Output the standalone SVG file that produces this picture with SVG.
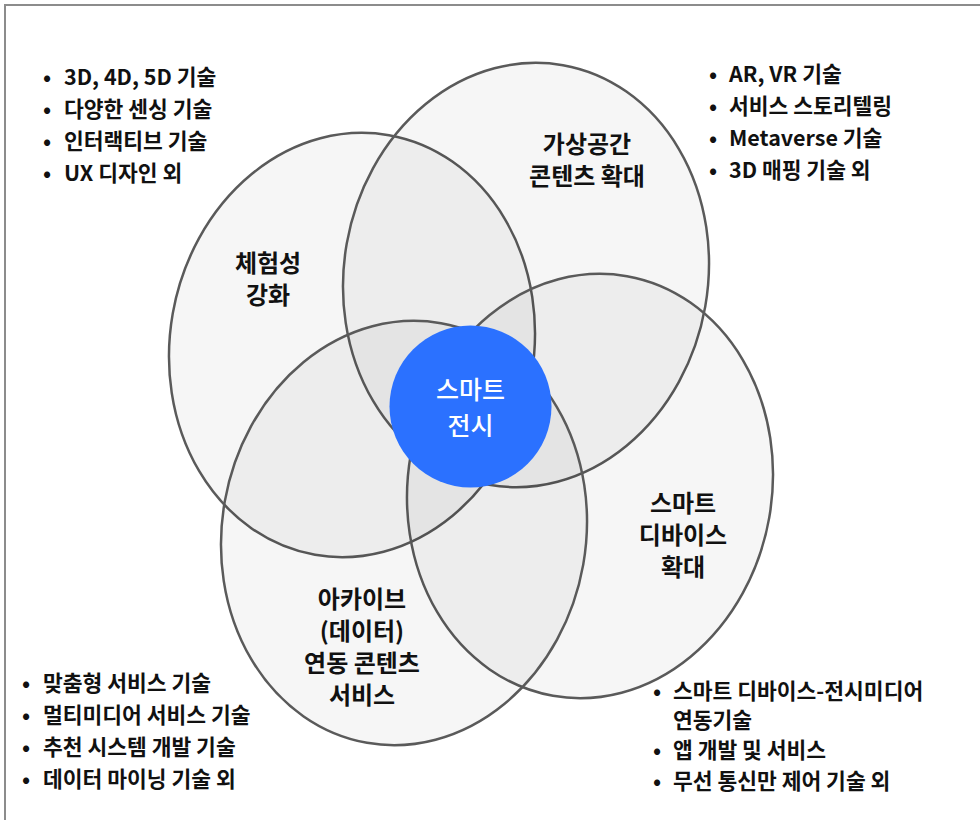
<svg xmlns="http://www.w3.org/2000/svg" width="980" height="820" viewBox="0 0 980 820">
<style>
.frame{fill:#fff;stroke:#8c8c8c;stroke-width:2}
.petal{fill:#000;fill-opacity:0.035;stroke:#5a5a5a;stroke-width:2.5}
.title{font-family:"Noto Sans CJK KR","Noto Sans",sans-serif;font-size:24px;font-weight:700;fill:#111;text-anchor:middle}
.core{fill:#2B71FF}
.coretxt{font-family:"Noto Sans CJK KR","Noto Sans",sans-serif;font-size:25px;font-weight:500;fill:#fff;text-anchor:middle}
.list{font-family:"Noto Sans CJK KR","Noto Sans",sans-serif;font-size:21.5px;font-weight:600;fill:#111}
</style>
<rect class="frame" x="5" y="5" width="1000" height="900"/>
<g id="connectors"/>
<g id="node-experience">
  <ellipse class="petal" cx="352" cy="345" rx="182" ry="213" transform="rotate(10 352 345)"/>
  <text class="title" x="268" y="272">체험성</text>
  <text class="title" x="268" y="304">강화</text>
</g>
<g id="node-virtual">
  <ellipse class="petal" cx="526" cy="275" rx="182" ry="213" transform="rotate(10 526 275)"/>
  <text class="title" x="587" y="153">가상공간</text>
  <text class="title" x="587" y="185">콘텐츠 확대</text>
</g>
<g id="node-device">
  <ellipse class="petal" cx="590" cy="486" rx="182" ry="213" transform="rotate(10 590 486)"/>
  <text class="title" x="683" y="512">스마트</text>
  <text class="title" x="683" y="544">디바이스</text>
  <text class="title" x="683" y="576">확대</text>
</g>
<g id="node-archive">
  <ellipse class="petal" cx="404" cy="533" rx="182" ry="213" transform="rotate(10 404 533)"/>
  <text class="title" x="362" y="608">아카이브</text>
  <text class="title" x="362" y="640">(데이터)</text>
  <text class="title" x="362" y="672">연동 콘텐츠</text>
  <text class="title" x="362" y="704">서비스</text>
</g>
<g id="node-center">
  <circle class="core" cx="470.5" cy="406.5" r="81"/>
  <text class="coretxt" x="470.5" y="399">스마트</text>
  <text class="coretxt" x="470.5" y="435">전시</text>
</g>
<g id="list-experience">
  <text class="list" y="85"><tspan x="43">•</tspan><tspan x="64">3D, 4D, 5D 기술</tspan></text>
  <text class="list" y="117"><tspan x="43">•</tspan><tspan x="64">다양한 센싱 기술</tspan></text>
  <text class="list" y="149"><tspan x="43">•</tspan><tspan x="64">인터랙티브 기술</tspan></text>
  <text class="list" y="181"><tspan x="43">•</tspan><tspan x="64">UX 디자인 외</tspan></text>
</g>
<g id="list-virtual">
  <text class="list" y="82"><tspan x="709">•</tspan><tspan x="729">AR, VR 기술</tspan></text>
  <text class="list" y="114"><tspan x="709">•</tspan><tspan x="729">서비스 스토리텔링</tspan></text>
  <text class="list" y="146"><tspan x="709">•</tspan><tspan x="729">Metaverse 기술</tspan></text>
  <text class="list" y="178"><tspan x="709">•</tspan><tspan x="729">3D 매핑 기술 외</tspan></text>
</g>
<g id="list-archive">
  <text class="list" y="691"><tspan x="22">•</tspan><tspan x="43">맞춤형 서비스 기술</tspan></text>
  <text class="list" y="723"><tspan x="22">•</tspan><tspan x="43">멀티미디어 서비스 기술</tspan></text>
  <text class="list" y="755"><tspan x="22">•</tspan><tspan x="43">추천 시스템 개발 기술</tspan></text>
  <text class="list" y="787"><tspan x="22">•</tspan><tspan x="43">데이터 마이닝 기술 외</tspan></text>
</g>
<g id="list-device">
  <text class="list" y="699"><tspan x="653">•</tspan><tspan x="673">스마트 디바이스-전시미디어</tspan></text>
  <text class="list" y="728"><tspan x="673">연동기술</tspan></text>
  <text class="list" y="758"><tspan x="653">•</tspan><tspan x="673">앱 개발 및 서비스</tspan></text>
  <text class="list" y="789"><tspan x="653">•</tspan><tspan x="673">무선 통신만 제어 기술 외</tspan></text>
</g>
</svg>
